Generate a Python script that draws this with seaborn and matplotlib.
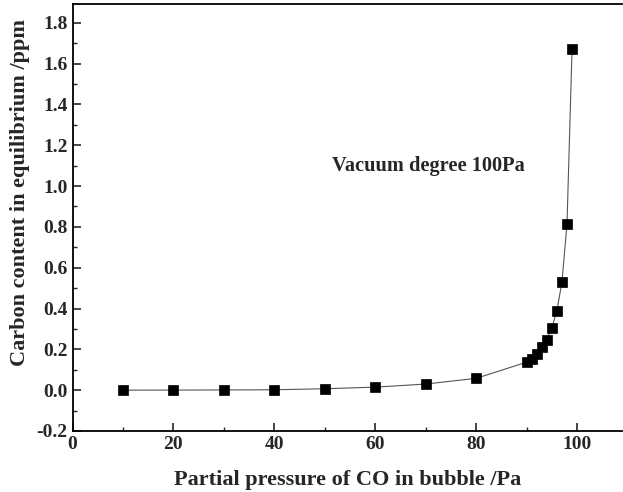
import matplotlib
matplotlib.use("Agg")
import matplotlib.pyplot as plt
import seaborn as sns
import pandas as pd
from matplotlib.ticker import MultipleLocator

pressure = [10, 20, 30, 40, 50, 60, 70, 80, 90, 91, 92, 93, 94, 95, 96, 97, 98, 99]
carbon = [0.0, 0.0005, 0.001, 0.002, 0.007, 0.015, 0.03, 0.058, 0.137, 0.152, 0.176, 0.21,
          0.248, 0.305, 0.39, 0.53, 0.815, 1.67]

df = pd.DataFrame({"p": pressure, "c": carbon})

sns.set_style("ticks")
plt.rcParams['font.family'] = ['Liberation Serif', 'DejaVu Serif']
plt.rcParams['font.weight'] = 'bold'

fig = plt.figure(figsize=(6.23, 4.92), dpi=100)
ax = fig.add_axes([0.1164, 0.124, 0.882, 0.867])

sns.lineplot(data=df, x="p", y="c", ax=ax, color="#555555", linewidth=0.8,
             marker="s", markersize=6.5, markerfacecolor="black",
             markeredgecolor="black", markeredgewidth=0.5)

ax.set_xlim(0, 108.9)
ax.set_ylim(-0.2, 1.89)
ax.xaxis.set_major_locator(MultipleLocator(20))
ax.xaxis.set_minor_locator(MultipleLocator(10))
ax.yaxis.set_major_locator(MultipleLocator(0.2))
ax.yaxis.set_minor_locator(MultipleLocator(0.1))
ax.yaxis.set_major_formatter(matplotlib.ticker.FormatStrFormatter('%.1f'))

ax.tick_params(axis='both', which='major', direction='in', length=6, width=1.2,
               labelsize=14, top=False, right=False)
ax.tick_params(axis='both', which='minor', direction='in', length=3, width=1.0,
               top=False, right=False)
for lab in ax.get_xticklabels() + ax.get_yticklabels():
    lab.set_fontweight('bold')

for s in ax.spines.values():
    s.set_linewidth(1.3)
    s.set_color('black')
ax.spines['right'].set_visible(False)

ax.set_xlabel("Partial pressure of CO in bubble /Pa", fontsize=16, fontweight='bold', labelpad=12.5)
ax.set_ylabel("Carbon content in equilibrium /ppm", fontsize=16, fontweight='bold', labelpad=4.8)
ax.yaxis.label.set_y(0.558)

ax.text(51.4, 1.10, "Vacuum degree 100Pa", fontsize=14.7, fontweight='bold', va='center', ha='left')

fig.savefig("out.png", dpi=100)
